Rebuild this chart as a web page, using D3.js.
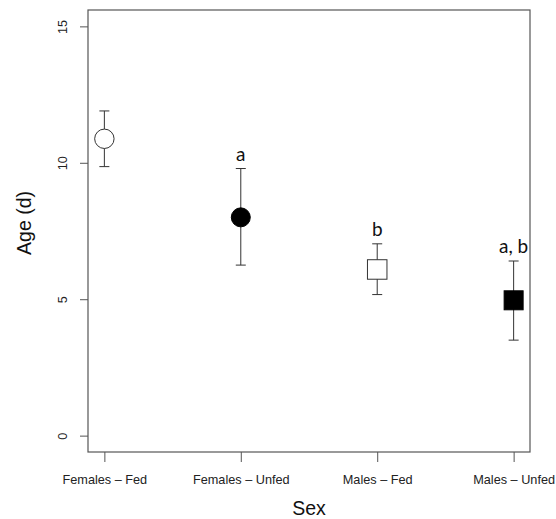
<!DOCTYPE html>
<html><head><meta charset="utf-8">
<script src="https://cdn.jsdelivr.net/npm/d3@7"></script>
<style>body{margin:0;background:#fff}svg{display:block}</style>
</head><body>
<svg id="c" width="556" height="519"></svg>
<script>
const categories = ["Females – Fed", "Females – Unfed", "Males – Fed", "Males – Unfed"];
const means = [10.88, 8.0, 6.09, 4.96];
const upper = [11.9, 9.79, 7.03, 6.40];
const lower = [9.86, 6.25, 5.17, 3.5];
const letters = ["", "a", "b", "a, b"];
const shapes = ["circle", "circle", "square", "square"];
const filled = [false, true, false, true];
const yTicks = [0, 5, 10, 15];

const svg = d3.select("#c");
const L = 88, R = 530, T = 10, B = 452;
const x = d3.scaleLinear().domain([0.88, 4.12]).range([L, R]);
const y = d3.scaleLinear().domain([-0.6, 15.6]).range([B, T]);
const lineCol = "#555";
const font = "'Liberation Sans', Arial, Helvetica, sans-serif";

// box
svg.append("rect").attr("x", L).attr("y", T).attr("width", R - L).attr("height", B - T)
  .attr("fill", "none").attr("stroke", lineCol).attr("stroke-width", 1.2);

// y axis
const ya = svg.append("g").attr("transform", `translate(${L},0)`)
  .call(d3.axisLeft(y).tickValues(yTicks).tickSize(8).tickFormat(d3.format("d")));
ya.select(".domain").remove();
ya.selectAll("line").attr("stroke", lineCol);
ya.selectAll("text").attr("transform", d => `translate(${-20.5 - 8 + 8},0)`)
  .remove();
ya.selectAll(".tick").append("text")
  .attr("transform", "translate(-21,0) rotate(-90)")
  .attr("text-anchor", "middle").attr("dy", 0)
  .attr("fill", "#222").attr("font-family", font).attr("font-size", 12.7)
  .text(d => d);

// x axis
const xa = svg.append("g").attr("transform", `translate(0,${B})`)
  .call(d3.axisBottom(x).tickValues([1, 2, 3, 4]).tickSize(10).tickFormat((d, i) => categories[i]));
xa.select(".domain").remove();
xa.selectAll("line").attr("stroke", lineCol);
xa.selectAll("text").attr("y", 0).attr("dy", 0).attr("transform", "translate(0,32)")
  .attr("fill", "#222").attr("font-family", font).attr("font-size", 12.7);

// axis titles
svg.append("text").attr("x", (L + R) / 2).attr("y", 515).attr("text-anchor", "middle")
  .attr("font-family", font).attr("font-size", 19.5).attr("fill", "#111").text("Sex");
svg.append("text").attr("transform", `translate(31,${(T + B) / 2 - 8}) rotate(-90)`)
  .attr("text-anchor", "middle")
  .attr("font-family", font).attr("font-size", 19.5).attr("fill", "#111").text("Age (d)");

const idx = d3.range(categories.length);
const g = svg.append("g");
// error bars
idx.forEach(i => {
  const cx = x(i + 1);
  g.append("line").attr("x1", cx).attr("x2", cx).attr("y1", y(upper[i])).attr("y2", y(lower[i]))
    .attr("stroke", "#333").attr("stroke-width", 1);
  [upper[i], lower[i]].forEach(v => g.append("line")
    .attr("x1", cx - 5).attr("x2", cx + 5).attr("y1", y(v)).attr("y2", y(v))
    .attr("stroke", "#333").attr("stroke-width", 1));
});
// points
idx.forEach(i => {
  const cx = x(i + 1), cy = y(means[i]);
  if (shapes[i] === "circle") {
    g.append("circle").attr("cx", cx).attr("cy", cy).attr("r", filled[i] ? 9.5 : 9.7)
      .attr("fill", filled[i] ? "#000" : "#fff").attr("stroke", filled[i] ? "#000" : "#333").attr("stroke-width", 1);
  } else {
    const s = filled[i] ? 19 : 19.5;
    g.append("rect").attr("x", cx - s / 2).attr("y", cy - s / 2).attr("width", s).attr("height", s)
      .attr("fill", filled[i] ? "#000" : "#fff").attr("stroke", filled[i] ? "#000" : "#333").attr("stroke-width", 1);
  }
  if (letters[i]) {
    g.append("text").attr("x", cx).attr("y", y(upper[i]) - 8).attr("text-anchor", "middle")
      .attr("font-family", "Lato, 'Open Sans', sans-serif").attr("font-size", 19)
      .attr("fill", "#111").text(letters[i]);
  }
});
</script>
</body></html>
